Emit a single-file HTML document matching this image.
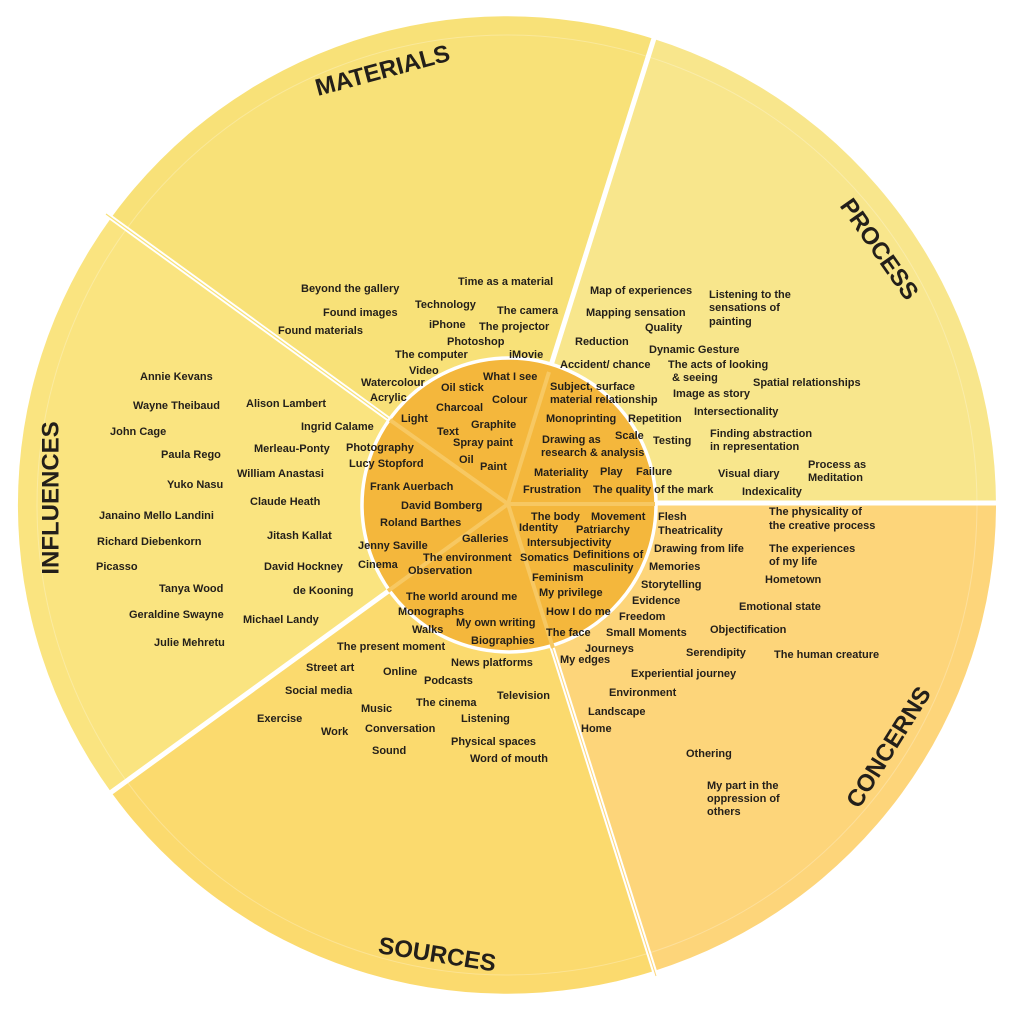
<!DOCTYPE html>
<html><head><meta charset="utf-8"><style>
html,body{margin:0;padding:0;background:#fff;}
svg{display:block;}
text{font-family:"Liberation Sans",Arial,sans-serif;font-weight:bold;fill:#231f1a;}
.t{font-size:11px;}
.h{font-size:24px;}
</style></head><body>
<svg width="1022" height="1024" viewBox="0 0 1022 1024" xmlns="http://www.w3.org/2000/svg">
<!-- wedges: center 507,505 r 489 -->
<path d="M507,505 L654,39 A489,489 0 0 1 996,505 Z" fill="#f8e68c"/>
<path d="M507,505 L996,505 A489,489 0 0 1 654,971 Z" fill="#fdd57a"/>
<path d="M507,505 L654,971 A489,489 0 0 1 111,792 Z" fill="#fbda6e"/>
<path d="M507,505 L111,792 A489,489 0 0 1 111,218 Z" fill="#fae480"/>
<path d="M507,505 L111,218 A489,489 0 0 1 654,39 Z" fill="#f8e178"/>
<circle cx="507" cy="505" r="470" fill="none" stroke="#fff" stroke-opacity="0.25" stroke-width="1"/>
<g stroke="#fff" stroke-width="5">
<line x1="507" y1="505" x2="656" y2="32"/>
<line x1="507" y1="503" x2="1000" y2="503"/>
<line x1="507" y1="505" x2="656" y2="976"/>
<line x1="507" y1="505" x2="106" y2="796"/>
<line x1="507" y1="505" x2="106" y2="214"/>
</g>
<line x1="507" y1="505" x2="106" y2="214" stroke="#f8e178" stroke-width="1.2"/>
<line x1="507" y1="505" x2="656" y2="976" stroke="#fdd57a" stroke-width="1"/>
<!-- inner circle -->
<circle cx="509" cy="505" r="147" fill="#f4b73c" stroke="#fff" stroke-width="3.5"/>
<g stroke="#f7c862" stroke-width="4">
<line x1="508" y1="504" x2="549" y2="372"/>
<line x1="508" y1="504" x2="655" y2="504"/>
<line x1="508" y1="504" x2="553" y2="648"/>
<line x1="508" y1="504" x2="388" y2="591"/>
<line x1="508" y1="504" x2="390" y2="420"/>
</g>
<!-- titles -->
<text class="h" transform="translate(383,72) rotate(-15)" text-anchor="middle" dominant-baseline="middle">MATERIALS</text>
<text class="h" transform="translate(878,250) rotate(55)" text-anchor="middle" dominant-baseline="middle">PROCESS</text>
<text class="h" transform="translate(890,748) rotate(-58)" text-anchor="middle" dominant-baseline="middle">CONCERNS</text>
<text class="h" transform="translate(437,956) rotate(9)" text-anchor="middle" dominant-baseline="middle">SOURCES</text>
<text class="h" transform="translate(52,498) rotate(-90)" text-anchor="middle" dominant-baseline="middle">INFLUENCES</text>
<g class="t">
<!-- materials -->
<text x="301" y="292">Beyond the gallery</text>
<text x="458" y="285">Time as a material</text>
<text x="415" y="308">Technology</text>
<text x="497" y="314">The camera</text>
<text x="323" y="316">Found images</text>
<text x="429" y="328">iPhone</text>
<text x="479" y="330">The projector</text>
<text x="278" y="334">Found materials</text>
<text x="447" y="345">Photoshop</text>
<text x="395" y="358">The computer</text>
<text x="509" y="358">iMovie</text>
<text x="409" y="374">Video</text>
<text x="483" y="380">What I see</text>
<text x="361" y="386">Watercolour</text>
<text x="441" y="391">Oil stick</text>
<text x="370" y="401">Acrylic</text>
<text x="492" y="403">Colour</text>
<text x="436" y="411">Charcoal</text>
<text x="401" y="422">Light</text>
<text x="471" y="428">Graphite</text>
<text x="437" y="435">Text</text>
<text x="453" y="446">Spray paint</text>
<text x="459" y="463">Oil</text>
<text x="480" y="470">Paint</text>
<!-- influences -->
<text x="140" y="380">Annie Kevans</text>
<text x="133" y="409">Wayne Theibaud</text>
<text x="246" y="407">Alison Lambert</text>
<text x="110" y="435">John Cage</text>
<text x="301" y="430">Ingrid Calame</text>
<text x="161" y="458">Paula Rego</text>
<text x="254" y="452">Merleau-Ponty</text>
<text x="346" y="451">Photography</text>
<text x="237" y="477">William Anastasi</text>
<text x="349" y="467">Lucy Stopford</text>
<text x="167" y="488">Yuko Nasu</text>
<text x="370" y="490">Frank Auerbach</text>
<text x="250" y="505">Claude Heath</text>
<text x="401" y="509">David Bomberg</text>
<text x="99" y="519">Janaino Mello Landini</text>
<text x="380" y="526">Roland Barthes</text>
<text x="267" y="539">Jitash Kallat</text>
<text x="97" y="545">Richard Diebenkorn</text>
<text x="358" y="549">Jenny Saville</text>
<text x="264" y="570">David Hockney</text>
<text x="358" y="568">Cinema</text>
<text x="96" y="570">Picasso</text>
<text x="159" y="592">Tanya Wood</text>
<text x="293" y="594">de Kooning</text>
<text x="129" y="618">Geraldine Swayne</text>
<text x="243" y="623">Michael Landy</text>
<text x="154" y="646">Julie Mehretu</text>
<!-- sources -->
<text x="462" y="542">Galleries</text>
<text x="423" y="561">The environment</text>
<text x="408" y="574">Observation</text>
<text x="406" y="600">The world around me</text>
<text x="398" y="615">Monographs</text>
<text x="456" y="626">My own writing</text>
<text x="412" y="633">Walks</text>
<text x="471" y="644">Biographies</text>
<text x="337" y="650">The present moment</text>
<text x="451" y="666">News platforms</text>
<text x="306" y="671">Street art</text>
<text x="383" y="675">Online</text>
<text x="424" y="684">Podcasts</text>
<text x="285" y="694">Social media</text>
<text x="416" y="706">The cinema</text>
<text x="497" y="699">Television</text>
<text x="361" y="712">Music</text>
<text x="257" y="722">Exercise</text>
<text x="461" y="722">Listening</text>
<text x="321" y="735">Work</text>
<text x="365" y="732">Conversation</text>
<text x="451" y="745">Physical spaces</text>
<text x="372" y="754">Sound</text>
<text x="470" y="762">Word of mouth</text>
<!-- process -->
<text x="590" y="294">Map of experiences</text>
<text x="709" y="298">Listening to the</text>
<text x="709" y="311">sensations of</text>
<text x="709" y="325">painting</text>
<text x="586" y="316">Mapping sensation</text>
<text x="645" y="331">Quality</text>
<text x="575" y="345">Reduction</text>
<text x="649" y="353">Dynamic Gesture</text>
<text x="560" y="368">Accident/ chance</text>
<text x="668" y="368">The acts of looking</text>
<text x="672" y="381">&amp; seeing</text>
<text x="550" y="390">Subject, surface</text>
<text x="550" y="403">material relationship</text>
<text x="753" y="386">Spatial relationships</text>
<text x="673" y="397">Image as story</text>
<text x="546" y="422">Monoprinting</text>
<text x="628" y="422">Repetition</text>
<text x="694" y="415">Intersectionality</text>
<text x="542" y="443">Drawing as</text>
<text x="541" y="456">research &amp; analysis</text>
<text x="615" y="439">Scale</text>
<text x="653" y="444">Testing</text>
<text x="710" y="437">Finding abstraction</text>
<text x="710" y="450">in representation</text>
<text x="534" y="476">Materiality</text>
<text x="600" y="475">Play</text>
<text x="636" y="475">Failure</text>
<text x="718" y="477">Visual diary</text>
<text x="808" y="468">Process as</text>
<text x="808" y="481">Meditation</text>
<text x="523" y="493">Frustration</text>
<text x="593" y="493">The quality of the mark</text>
<text x="742" y="495">Indexicality</text>
<!-- concerns -->
<text x="531" y="520">The body</text>
<text x="591" y="520">Movement</text>
<text x="658" y="520">Flesh</text>
<text x="769" y="515">The physicality of</text>
<text x="769" y="529">the creative process</text>
<text x="519" y="531">Identity</text>
<text x="576" y="533">Patriarchy</text>
<text x="658" y="534">Theatricality</text>
<text x="527" y="546">Intersubjectivity</text>
<text x="654" y="552">Drawing from life</text>
<text x="769" y="552">The experiences</text>
<text x="769" y="565">of my life</text>
<text x="520" y="561">Somatics</text>
<text x="573" y="558">Definitions of</text>
<text x="573" y="571">masculinity</text>
<text x="649" y="570">Memories</text>
<text x="532" y="581">Feminism</text>
<text x="765" y="583">Hometown</text>
<text x="641" y="588">Storytelling</text>
<text x="539" y="596">My privilege</text>
<text x="632" y="604">Evidence</text>
<text x="739" y="610">Emotional state</text>
<text x="546" y="615">How I do me</text>
<text x="619" y="620">Freedom</text>
<text x="710" y="633">Objectification</text>
<text x="546" y="636">The face</text>
<text x="606" y="636">Small Moments</text>
<text x="585" y="652">Journeys</text>
<text x="686" y="656">Serendipity</text>
<text x="774" y="658">The human creature</text>
<text x="560" y="663">My edges</text>
<text x="631" y="677">Experiential journey</text>
<text x="609" y="696">Environment</text>
<text x="588" y="715">Landscape</text>
<text x="581" y="732">Home</text>
<text x="686" y="757">Othering</text>
<text x="707" y="789">My part in the</text>
<text x="707" y="802">oppression of</text>
<text x="707" y="815">others</text>
</g>
</svg>
</body></html>
